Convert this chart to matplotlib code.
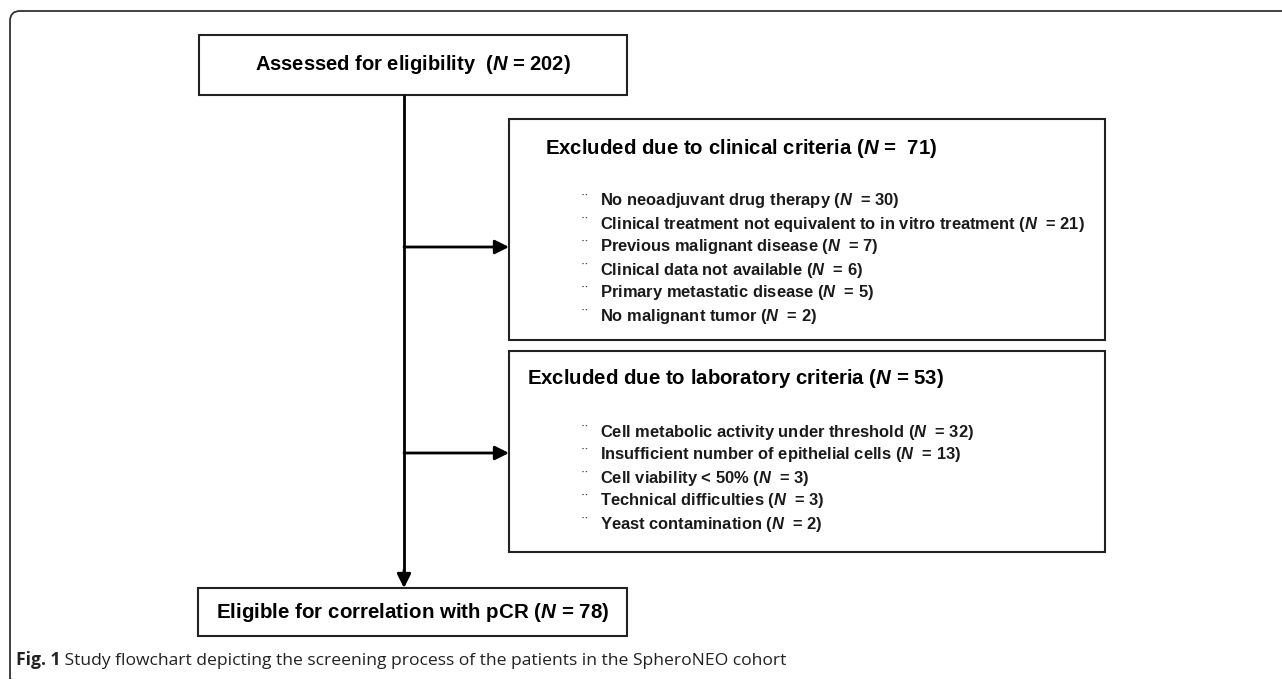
import matplotlib
matplotlib.use("Agg")
import matplotlib.pyplot as plt
from matplotlib.patches import Rectangle, FancyBboxPatch, FancyArrowPatch

# ---- data ----
assessed_n = 202
clinical_total = 71
lab_total = 53
eligible_n = 78
clinical_items = ["No neoadjuvant drug therapy",
                  "Clinical treatment not equivalent to in vitro treatment",
                  "Previous malignant disease",
                  "Clinical data not available",
                  "Primary metastatic disease",
                  "No malignant tumor"]
clinical_n = [30, 21, 7, 6, 5, 2]
lab_items = ["Cell metabolic activity under threshold",
             "Insufficient number of epithelial cells",
             "Cell viability < 50%",
             "Technical difficulties",
             "Yeast contamination"]
lab_n = [32, 13, 3, 3, 2]
caption_bold = "Fig. 1"
caption_text = " Study flowchart depicting the screening process of the patients in the SpheroNEO cohort"

plt.rcParams['mathtext.fontset'] = 'custom'
plt.rcParams['mathtext.it'] = 'Liberation Sans:italic:bold'
plt.rcParams['mathtext.rm'] = 'Liberation Sans:bold'
plt.rcParams['mathtext.bf'] = 'Liberation Sans:bold'

W, H = 1282, 679
fig = plt.figure(figsize=(W / 100, H / 100), dpi=100)
ax = fig.add_axes([0, 0, 1, 1])
ax.set_xlim(0, W)
ax.set_ylim(H, 0)
ax.axis('off')

FONT = 'Liberation Sans'
EDGE = '#222222'
N = r'$\mathit{N}$'

# outer rounded frame (only left/top visible)
ax.add_patch(FancyBboxPatch((10, 11), 1400, 678,
                            boxstyle="round,pad=0,rounding_size=10",
                            fill=False, ec='#333333', lw=1.3))

def box(x0, y0, x1, y1):
    ax.add_patch(Rectangle((x0, y0), x1 - x0, y1 - y0, fill=False,
                           ec=EDGE, lw=1.5))

# boxes
box(199, 35, 627, 95)
box(509, 119, 1105, 340)
box(509, 351, 1105, 552)
box(198, 588, 627, 636)

# connectors
ax.plot([404, 404], [95, 578], color='black', lw=2.0, solid_capstyle='butt')
def arrow(x0, y0, x1, y1):
    ax.add_patch(FancyArrowPatch((x0, y0), (x1, y1),
                                 arrowstyle='-|>,head_length=0.7,head_width=0.35',
                                 mutation_scale=12, color='black', lw=2.0,
                                 shrinkA=0, shrinkB=0))
arrow(404, 570, 404, 588)
arrow(404, 247, 509, 247)
arrow(404, 453, 509, 453)

# texts
ax.text(413, 65, f"Assessed for eligibility  ({N} = {assessed_n})",
        ha='center', va='center', fontsize=14.5, fontweight='bold', family=FONT)
ax.text(413, 612, f"Eligible for correlation with pCR ({N} = {eligible_n})",
        ha='center', va='center', fontsize=14.8, fontweight='bold', family=FONT)

ax.text(545, 148, f"Excluded due to clinical criteria ({N} =  {clinical_total})",
        ha='left', va='center', fontsize=14.7, fontweight='bold', family=FONT)
for i, (lab, n) in enumerate(zip(clinical_items, clinical_n)):
    y = 201 + i * 23
    ax.text(582, y, "\u00a8", ha='left', va='center', fontsize=12.5, family=FONT, color='#444444')
    ax.text(600, y, f"{lab} ({N}  = {n})", ha='left', va='center',
            fontsize=11.9, fontweight='bold', family=FONT, color='#1a1a1a')

ax.text(527, 378, f"Excluded due to laboratory criteria ({N} = {lab_total})",
        ha='left', va='center', fontsize=14.7, fontweight='bold', family=FONT)
for i, (lab, n) in enumerate(zip(lab_items, lab_n)):
    y = 432 + i * 23
    ax.text(582, y, "\u00a8", ha='left', va='center', fontsize=12.5, family=FONT, color='#444444')
    ax.text(600, y, f"{lab} ({N}  = {n})", ha='left', va='center',
            fontsize=11.9, fontweight='bold', family=FONT, color='#1a1a1a')

# caption
t1 = ax.text(16, 669, caption_bold, ha='left', va='bottom', fontsize=12.6,
             fontweight='bold', family='Open Sans', color='#222222')
ax.annotate(caption_text, xy=(1, 0), xycoords=t1, ha='left', va='bottom',
            fontsize=12.6, family='Open Sans', color='#222222')

fig.savefig('out.png', dpi=100)
